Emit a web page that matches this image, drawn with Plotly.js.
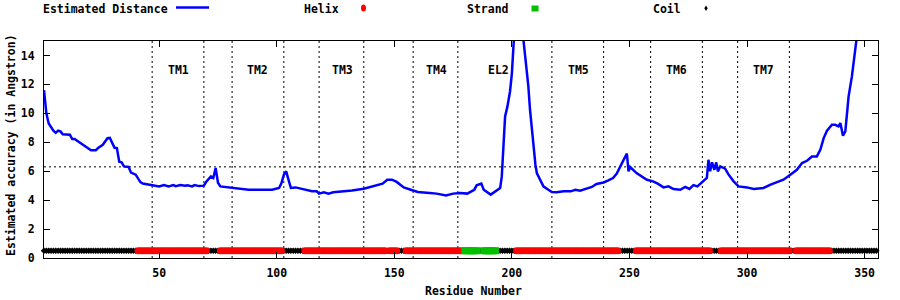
<!DOCTYPE html>
<html>
<head>
<meta charset="utf-8">
<script src="https://cdn.plot.ly/plotly-3.0.1.min.js"></script>
<style>html,body{margin:0;padding:0;background:#fff;}#chart{width:900px;height:300px;}</style>
</head>
<body>
<div id="chart"></div>
<script>
// ---- Data ----
const residue = [1,2,3,4,5,6,7,8,9,12,13,14,16,18,20,21,23,24,26,27,28,29,30,31,32,33,34,35,37,38,40,41,42,43,45,47,50,52,54,56,57,59,61,62,64,65,67,69,70,72,73,74,75,76,79,83,88,92,98,101,102,103,104,105,106,108,112,115,117,118,120,122,124,128,132,137,140,145,147,149,151,154,157,160,165,168,172,175,178,181,184,185,187,188,191,193,195,195.7,196.4,197.1,198.1,199.2,200,200.6,201.5,203,205,206,207,207.7,208.5,209,210,210.6,212,213.4,215.5,217,219,222,225,227,229,231,234,236,239,241,243,244.6,246,247.4,248.9,249.6,250.3,253,257.4,260,262,264.5,266.6,268.7,271.6,273.7,275.5,277.2,278.9,281.5,282.9,283.6,284.3,285.1,286.1,286.9,287.6,288.6,290.7,292.1,294.3,296.4,300,302.8,307,310,312.7,315.5,318.4,321.2,323.4,325.5,327.6,329.7,331.2,332.6,334,336.1,337.5,338.9,339.7,340.8,341.8,342.5,343.2,344.6,345.6,346.5,348];
const distance = [11.6,10.0,9.3,9.0,8.8,8.65,8.8,8.75,8.55,8.52,8.22,8.22,8.0,7.76,7.53,7.44,7.44,7.6,7.83,8.1,8.28,8.3,7.9,7.62,7.6,6.65,6.61,6.33,6.29,5.9,5.76,5.53,5.25,5.15,5.1,5.02,4.95,5.04,4.95,5.04,4.97,5.04,4.99,5.02,4.95,5.04,4.97,5.0,5.27,5.64,5.53,6.22,5.2,4.95,4.9,4.79,4.72,4.72,4.72,4.84,5.18,5.76,5.99,5.4,4.84,4.88,4.72,4.61,4.61,4.45,4.54,4.45,4.54,4.59,4.67,4.79,4.91,5.14,5.41,5.41,5.26,4.88,4.72,4.56,4.49,4.45,4.33,4.45,4.49,4.45,4.72,5.02,5.14,4.72,4.38,4.61,4.84,5.64,7.83,9.79,10.48,11.51,12.78,15.1,17,18,15.1,13.47,11.86,10.25,8.87,7.72,6.45,5.87,5.41,4.95,4.72,4.56,4.54,4.61,4.61,4.72,4.65,4.77,4.91,5.12,5.22,5.37,5.53,5.83,6.33,6.75,7.21,5.99,6.29,5.87,5.41,5.3,5.14,4.88,4.95,4.77,4.72,4.91,4.77,5.04,4.95,5.37,5.53,6.79,5.99,6.61,6.1,6.61,5.99,6.33,6.17,5.78,5.3,4.95,4.88,4.77,4.84,5.07,5.22,5.41,5.76,6.1,6.56,6.72,7.02,7.02,7.49,8.29,8.8,9.21,9.21,9.1,9.33,8.45,8.75,10.02,11.17,12.55,13.7,15.1,17];

// Secondary structure segments (H = helix, E = strand, C = coil)
const ssStart = [1,41,71,76,103,112,147,148,152,155,180,186,188,194,202,246,253,285,289,319,321,336];
const ssEnd   = [40,70,75,102,111,146,147,151,154,179,185,187,193,201,245,252,284,288,318,320,335,355];
const ssType  = ['C','H','C','H','C','H','C','H','C','H','E','C','E','C','H','C','H','C','H','C','H','C'];
const ssLevel = 0.5;

// Region boundaries and labels
const regionBounds = [47,69,81,103,118,137,158,177,217,239,259,281,296,318];
const regionLabels = ['TM1','TM2','TM3','TM4','EL2','TM5','TM6','TM7'];
const regionLabelX = [58,92,128,168,194.5,228.5,270,307];
const regionLabelY = 13;
const threshold = 6.3;

const xTicks = [50,100,150,200,250,300,350];
const yTicks = [0,2,4,6,8,10,12,14];
const xTitle = 'Residue Number';
const yTitle = 'Estimated accuracy (in Angstron)';

// ---- Build traces ----
const ssRes = {H: [], E: [], C: []};
for (let i = 0; i < ssStart.length; i++) {
  for (let r = ssStart[i]; r <= ssEnd[i]; r++) ssRes[ssType[i]].push(r);
}

const FONT = 'DejaVu Sans Mono, monospace';
const traces = [
  {x: ssRes.C, y: ssRes.C.map(() => ssLevel), mode: 'markers', type: 'scatter', cliponaxis: false,
   marker: {symbol: 'diamond', size: 5, color: '#000000'}, name: 'Coil', hoverinfo: 'skip'},
  {x: ssRes.H, y: ssRes.H.map(() => ssLevel), mode: 'markers', type: 'scatter', cliponaxis: false,
   marker: {symbol: 'circle', size: 7, color: '#ff0000'}, name: 'Helix', hoverinfo: 'skip'},
  {x: ssRes.E, y: ssRes.E.map(() => ssLevel), mode: 'markers', type: 'scatter', cliponaxis: false,
   marker: {symbol: 'square', size: 7, color: '#00c000'}, name: 'Strand', hoverinfo: 'skip'},
  {x: residue, y: distance, mode: 'lines', type: 'scatter',
   line: {color: '#0000ff', width: 2.5}, name: 'Estimated Distance'}
];

// ---- Layout helpers (pixel -> paper) ----
const L = 44, R = 878, T = 41, B = 258;
const px = v => (v - L) / (R - L);
const py = v => (B - v) / (B - T);

const shapes = [];
regionBounds.forEach(b => shapes.push({type: 'line', xref: 'x', yref: 'paper', x0: b, x1: b, y0: 0, y1: 1,
  line: {color: '#000', width: 1, dash: '2px,3px'}, layer: 'below'}));
shapes.push({type: 'line', xref: 'paper', yref: 'y', x0: 0, x1: 1, y0: threshold, y1: threshold,
  line: {color: '#000', width: 1, dash: '2px,3px'}, layer: 'below'});

// legend samples
shapes.push({type: 'line', xref: 'paper', yref: 'paper', x0: px(176), x1: px(209), y0: py(7.5), y1: py(7.5),
  line: {color: '#0000ff', width: 2.5}});
shapes.push({type: 'circle', xref: 'paper', yref: 'paper', x0: px(361), x1: px(366), y0: py(11.5), y1: py(4.5),
  fillcolor: '#ff0000', line: {width: 0}});
shapes.push({type: 'rect', xref: 'paper', yref: 'paper', x0: px(531.5), x1: px(538.5), y0: py(11.5), y1: py(5.5),
  fillcolor: '#00c000', line: {width: 0}});
shapes.push({type: 'path', xref: 'paper', yref: 'paper',
  path: `M ${px(706)} ${py(5.5)} L ${px(707.7)} ${py(8.3)} L ${px(706)} ${py(11)} L ${px(704.3)} ${py(8.3)} Z`,
  fillcolor: '#000', line: {width: 0}});

const font = {family: FONT, size: 11.5, color: '#000', weight: 'bold'};
const annotations = regionLabels.map((t, i) => ({x: regionLabelX[i], y: regionLabelY, xref: 'x', yref: 'y',
  text: t, showarrow: false, font: font, xanchor: 'center', yanchor: 'middle'}));
const legendItems = [['Estimated Distance', 170], ['Helix', 341], ['Strand', 511.5], ['Coil', 683]];
legendItems.forEach(([t, xr]) => annotations.push({x: px(xr), y: py(8.5), xref: 'paper', yref: 'paper',
  text: t, showarrow: false, font: font, xanchor: 'right', yanchor: 'middle'}));
// axis titles
annotations.push({x: px(473), y: py(291), xref: 'paper', yref: 'paper', text: xTitle, showarrow: false,
  font: font, xanchor: 'center', yanchor: 'middle'});
annotations.push({x: px(10.5), y: py(145.5), xref: 'paper', yref: 'paper', text: yTitle, showarrow: false,
  font: font, textangle: -90, xanchor: 'center', yanchor: 'middle'});

const layout = {
  width: 900, height: 300,
  margin: {l: L, r: 900 - R, t: T, b: 300 - B},
  paper_bgcolor: '#fff', plot_bgcolor: '#fff',
  showlegend: false,
  font: font,
  xaxis: {range: [1, 355.7], tickvals: xTicks, ticks: 'inside', ticklen: 6, tickcolor: '#000',
    showline: true, linecolor: '#000', linewidth: 1, mirror: 'ticks', showgrid: false, zeroline: false,
    tickfont: font, ticklabelstandoff: 4},
  yaxis: {range: [0, 15], tickvals: yTicks, ticks: 'inside', ticklen: 6, tickcolor: '#000',
    showline: true, linecolor: '#000', linewidth: 1, mirror: 'ticks', showgrid: false, zeroline: false,
    tickfont: font, ticklabelstandoff: 6},
  shapes: shapes,
  annotations: annotations
};

Plotly.newPlot('chart', traces, layout, {staticPlot: true, displayModeBar: false});
</script>
</body>
</html>
